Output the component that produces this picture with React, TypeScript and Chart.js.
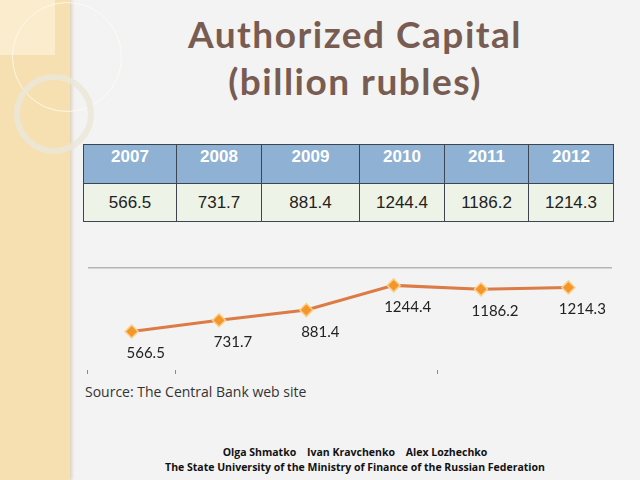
import React, { useEffect, useRef } from "react";
import { Chart, registerables } from "chart.js";

Chart.register(...registerables);

const years = ["2007", "2008", "2009", "2010", "2011", "2012"];
const capital = [566.5, 731.7, 881.4, 1244.4, 1186.2, 1214.3];
const yMin = 0;
const yMax = 1500;
const titleLines = ["Authorized Capital", "(billion rubles)"];
const sourceText = "Source: The Central Bank web site";
const authorsText = "Olga Shmatko\u00a0\u00a0\u00a0\u00a0Ivan Kravchenko\u00a0\u00a0\u00a0\u00a0Alex Lozhechko";
const universityText = "The State University of the Ministry of Finance of the Russian Federation";
const visibleXTicks = [0, 1, 4];

const valueLabels = {
  id: "valueLabels",
  afterDatasetsDraw(chart: any) {
    const ctx = chart.ctx;
    const meta = chart.getDatasetMeta(0);
    ctx.save();
    ctx.font = "15px Lato";
    ctx.fillStyle = "#222";
    ctx.textAlign = "center";
    ctx.textBaseline = "middle";
    meta.data.forEach((pt: any, i: number) => {
      const v = chart.data.datasets[0].data[i];
      ctx.fillText(String(v.toFixed(1)), pt.x + 14, pt.y + 22);
    });
    ctx.restore();
  },
};

function LineChart() {
  const ref = useRef<HTMLCanvasElement>(null);
  useEffect(() => {
    if (!ref.current) return;
    const chart = new Chart(ref.current, {
      type: "line",
      data: {
        labels: years,
        datasets: [
          {
            data: capital,
            borderColor: "#dc7b45",
            borderWidth: 3,
            pointStyle: "rectRot",
            pointRadius: 6.5,
            pointBackgroundColor: "#f5962a",
            pointBorderColor: "#fbd08c",
            pointBorderWidth: 1.5,
            tension: 0,
            clip: false as any,
          },
        ],
      },
      options: {
        animation: false,
        responsive: false,
        maintainAspectRatio: false,
        layout: { padding: { left: 8, right: 8, top: 18, bottom: 6 } },
        plugins: { legend: { display: false }, tooltip: { enabled: false } },
        scales: {
          x: {
            offset: true,
            border: { display: false },
            ticks: { display: false },
            grid: {
              offset: true,
              drawOnChartArea: false,
              drawTicks: true,
              tickLength: 4,
              lineWidth: 1,
              color: (c: any) => (visibleXTicks.includes(c.index) ? "#8a8a8a" : "rgba(0,0,0,0)"),
            },
          },
          y: {
            min: yMin,
            max: yMax,
            border: { display: false },
            ticks: { display: false, stepSize: 500 },
            grid: {
              drawTicks: false,
              lineWidth: 1.5,
              color: (c: any) => (c.tick && c.tick.value === yMax ? "#b5b5b5" : "rgba(0,0,0,0)"),
            },
          },
        },
      },
      plugins: [valueLabels],
    });
    return () => chart.destroy();
  }, []);
  return (
    <canvas
      ref={ref}
      width={540}
      height={130}
      style={{ position: "absolute", left: 80, top: 250, width: 540, height: 130 }}
    />
  );
}

export default function App() {
  const colBounds = [83, 176, 261, 359, 444, 528, 613];
  return (
    <div
      style={{
        position: "absolute",
        left: 0,
        top: 0,
        width: 640,
        height: 480,
        overflow: "hidden",
        background: "#f3f3f3",
        fontFamily: "Lato, sans-serif",
      }}
    >
      {/* left decorative strip */}
      <div
        style={{
          position: "absolute",
          left: 0,
          top: 0,
          width: 70,
          height: 480,
          background: "#f6e0b2",
          boxShadow: "2px 0 3px rgba(180,150,90,0.35)",
        }}
      />
      <div
        style={{
          position: "absolute",
          left: 0,
          top: 0,
          width: 55,
          height: 55,
          background: "rgba(255,250,235,0.45)",
        }}
      />
      <div
        style={{
          position: "absolute",
          left: 12,
          top: 2,
          width: 110,
          height: 110,
          borderRadius: "50%",
          border: "1.5px solid rgba(255,252,240,0.8)",
          boxSizing: "border-box",
        }}
      />
      <div
        style={{
          position: "absolute",
          left: 14,
          top: 74,
          width: 80,
          height: 80,
          borderRadius: "50%",
          border: "6px solid rgba(235,230,215,0.85)",
          boxSizing: "border-box",
        }}
      />
      {/* title */}
      <div
        style={{
          position: "absolute",
          left: 70,
          top: 10,
          width: 570,
          textAlign: "center",
          color: "#785c52",
          fontWeight: 700,
          fontSize: 37,
          letterSpacing: 1.5,
          lineHeight: "47px",
        }}
      >
        {titleLines.map((t) => (
          <div key={t}>{t}</div>
        ))}
      </div>
      {/* table */}
      <table
        style={{
          position: "absolute",
          left: colBounds[0],
          top: 144,
          width: colBounds[6] - colBounds[0],
          borderCollapse: "collapse",
          fontFamily: "'Liberation Sans', Arial, sans-serif",
          fontSize: 17,
          tableLayout: "fixed",
        }}
      >
        <colgroup>
          {years.map((y, i) => (
            <col key={y} style={{ width: colBounds[i + 1] - colBounds[i] }} />
          ))}
        </colgroup>
        <tbody>
          <tr style={{ height: 39 }}>
            {years.map((y) => (
              <td
                key={y}
                style={{
                  background: "#8fb2d4",
                  color: "#fff",
                  fontWeight: 700,
                  textAlign: "center",
                  verticalAlign: "top",
                  paddingTop: 2,
                  border: "1px solid #3d4650",
                }}
              >
                {y}
              </td>
            ))}
          </tr>
          <tr style={{ height: 38 }}>
            {capital.map((v, i) => (
              <td
                key={i}
                style={{
                  background: "#eef3e7",
                  color: "#222",
                  textAlign: "center",
                  border: "1px solid #3d4650",
                }}
              >
                {v.toFixed(1)}
              </td>
            ))}
          </tr>
        </tbody>
      </table>
      <LineChart />
      <div
        style={{
          position: "absolute",
          left: 85,
          top: 382,
          fontSize: 14,
          color: "#333",
          fontFamily: "'Open Sans', sans-serif",
        }}
      >
        {sourceText}
      </div>
      <div
        style={{
          position: "absolute",
          left: 70,
          top: 445,
          width: 570,
          textAlign: "center",
          fontSize: 10.5,
          fontWeight: 700,
          color: "#111",
          lineHeight: "15px",
          fontFamily: "'Open Sans', sans-serif",
        }}
      >
        <div>{authorsText}</div>
        <div>{universityText}</div>
      </div>
    </div>
  );
}
